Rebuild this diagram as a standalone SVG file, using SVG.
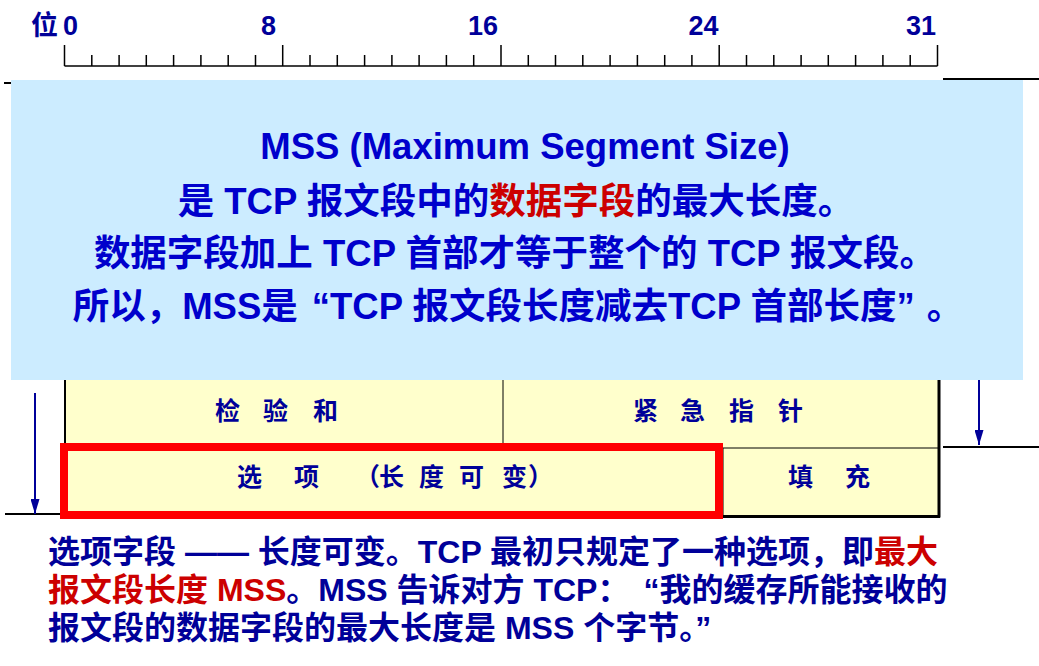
<svg xmlns="http://www.w3.org/2000/svg" width="1039" height="666" viewBox="0 0 1039 666">
  <defs>
    <style>
      text { font-family: 'Liberation Sans', 'Noto Sans CJK SC', sans-serif; font-weight: bold; }
      .scale { font-size: 27px; fill: #000099; }
      .cell { font-size: 25px; fill: #000099; }
      .note { font-size: 36.5px; fill: #0000CC; text-anchor: middle; }
      .foot { font-size: 32px; fill: #000099; }
      .red { fill: #CC0000; }
      .rule { stroke: #000; stroke-width: 1.5; fill: none; }
      .edge { stroke: #000; stroke-width: 2; fill: none; }
      .thin { stroke: #000; stroke-width: 1; fill: none; }
      .arrow { stroke: #000099; stroke-width: 2; fill: none; marker-end: url(#head); }
    </style>
    <marker id="head" viewBox="0 0 15 9" refX="15" refY="4.5" markerWidth="15" markerHeight="9" markerUnits="userSpaceOnUse" orient="auto">
      <path d="M0,0 L15,4.5 L0,9 Z" fill="#000099"/>
    </marker>
  </defs>

  <rect width="1039" height="666" fill="#fff"/>

  <!-- bit ruler -->
  <g id="ruler">
    <text class="scale" x="31" y="35">位</text>
    <text class="scale" x="63" y="35">0</text>
    <text class="scale" x="268.5" y="35" text-anchor="middle">8</text>
    <text class="scale" x="498" y="35" text-anchor="end">16</text>
    <text class="scale" x="718.5" y="35" text-anchor="end">24</text>
    <text class="scale" x="936" y="35" text-anchor="end">31</text>
    <path class="rule" d="M64.5,66 H937.5"/>
    <path class="rule" d="M64.5,45 V66 M282.7,45 V66 M501,45 V66 M719.2,45 V66 M937.5,45 V66"/>
    <path class="rule" d="M91.8,55V66 M119.1,55V66 M146.3,55V66 M173.6,55V66 M200.9,55V66 M228.2,55V66 M255.5,55V66
      M310,55V66 M337.3,55V66 M364.6,55V66 M391.9,55V66 M419.1,55V66 M446.4,55V66 M473.7,55V66
      M528.3,55V66 M555.5,55V66 M582.8,55V66 M610.1,55V66 M637.4,55V66 M664.7,55V66 M691.9,55V66
      M746.5,55V66 M773.8,55V66 M801.1,55V66 M828.3,55V66 M855.6,55V66 M882.9,55V66 M910.2,55V66"/>
  </g>

  <!-- header table (lower rows) -->
  <g id="table">
    <rect x="65" y="370" width="874" height="146" fill="#FFFFCC"/>
    <path class="thin" d="M503,370 V448 M65,448 H939 M723,448 V516"/>
    <path class="edge" d="M65,370 V516"/>
    <path stroke="#000" stroke-width="3" fill="none" d="M939,370 V517.5 M65,516.5 H940"/>
  </g>

  <g id="cell-checksum">
    <text class="cell" x="215 263 313" y="420">检验和</text>
  </g>
  <g id="cell-urgent">
    <text class="cell" x="633 680 729 778" y="420">紧急指针</text>
  </g>
  <g id="cell-options">
    <text class="cell" x="237 294 355 379 419 459 502 528" y="486">选项（长度可变）</text>
  </g>
  <g id="cell-padding">
    <text class="cell" x="788 845" y="486">填充</text>
  </g>

  <!-- highlight around the options field -->
  <rect id="options-highlight" x="64" y="447" width="655" height="68" fill="none" stroke="#FF0000" stroke-width="8"/>

  <!-- boundary lines and length arrows -->
  <g id="connectors">
    <path class="edge" d="M4,83 H60"/>
    <path class="edge" d="M943,79 H1039"/>
    <path class="edge" d="M5,514 H60"/>
    <path class="edge" d="M943,447 H1039"/>
    <path class="arrow" d="M35,393 V514"/>
    <path class="arrow" d="M979,380 V445"/>
  </g>

  <!-- MSS explanation panel -->
  <g id="mss-note">
    <rect x="11" y="80" width="1012" height="300" fill="#CCECFF"/>
    <text class="note" x="525" y="159">MSS (Maximum Segment Size)</text>
    <text class="note" x="516" y="214">是 TCP 报文段中的<tspan class="red">数据字段</tspan>的最大长度。</text>
    <text class="note" x="515" y="266">数据字段加上 TCP 首部才等于整个的 TCP 报文段。</text>
    <text class="note" x="518" y="319">所以，MSS是<tspan dx="14">“</tspan>TCP 报文段长度减去TCP 首部长度”<tspan dx="12">。</tspan></text>
  </g>

  <!-- option field description -->
  <g id="options-text">
    <text class="foot" x="48" y="563">选项字段 —— 长度可变。TCP 最初只规定了一种选项，即<tspan class="red">最大</tspan></text>
    <text class="foot" x="48" y="601"><tspan class="red">报文段长度 MSS</tspan>。MSS 告诉对方 TCP：<tspan dx="14">“</tspan>我的缓存所能接收的</text>
    <text class="foot" x="48" y="639">报文段的数据字段的最大长度是 MSS 个字节。”</text>
  </g>
</svg>
